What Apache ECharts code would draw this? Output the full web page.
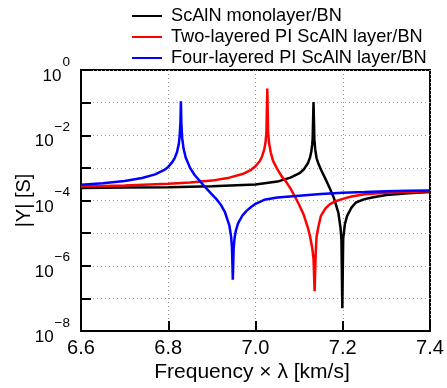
<!DOCTYPE html>
<html><head><meta charset="utf-8">
<script src="https://cdn.jsdelivr.net/npm/echarts@6/dist/echarts.min.js"></script>
<style>html,body{margin:0;padding:0;background:#fff}#c{width:447px;height:388px}</style>
</head><body><div id="c"></div>
<script>
const seriesNames = ['ScAlN monolayer/BN', 'Two-layered PI ScAlN layer/BN', 'Four-layered PI ScAlN layer/BN'];
const seriesColors = ['#000000', '#ff0000', '#0000ff'];

// ScAlN monolayer/BN
const blackFreq = [6.60, 6.70, 6.80, 6.90, 7.00, 7.05, 7.08, 7.10, 7.11, 7.12, 7.125, 7.128, 7.13, 7.131, 7.133, 7.135, 7.137, 7.14, 7.145, 7.15, 7.16, 7.17, 7.18, 7.19, 7.195, 7.197, 7.199, 7.201, 7.205, 7.21, 7.22, 7.23, 7.25, 7.27, 7.30, 7.35, 7.40];
const blackY = [2.40e-4, 2.51e-4, 2.57e-4, 2.75e-4, 3.09e-4, 3.80e-4, 5.01e-4, 6.76e-4, 8.71e-4, 1.38e-3, 2.09e-3, 3.24e-3, 5.25e-3, 7.76e-3, 1.05e-1, 7.24e-3, 3.55e-3, 2.00e-3, 1.26e-3, 8.91e-4, 4.68e-4, 2.40e-4, 1.17e-4, 4.17e-5, 1.41e-5, 6.31e-6, 5.01e-8, 6.76e-6, 1.91e-5, 3.39e-5, 6.03e-5, 8.71e-5, 1.10e-4, 1.26e-4, 1.48e-4, 1.66e-4, 1.82e-4];

// Two-layered PI ScAlN layer/BN
const redFreq = [6.60, 6.70, 6.80, 6.85, 6.90, 6.94, 6.97, 6.99, 7.00, 7.01, 7.015, 7.02, 7.023, 7.025, 7.027, 7.029, 7.031, 7.035, 7.04, 7.05, 7.06, 7.07, 7.08, 7.09, 7.10, 7.11, 7.12, 7.125, 7.13, 7.133, 7.1355, 7.138, 7.14, 7.145, 7.15, 7.16, 7.17, 7.18, 7.20, 7.22, 7.25, 7.30, 7.35, 7.40];
const redY = [2.69e-4, 2.88e-4, 3.24e-4, 3.55e-4, 4.07e-4, 5.01e-4, 6.46e-4, 8.71e-4, 1.12e-3, 1.62e-3, 2.24e-3, 3.63e-3, 6.17e-3, 1.20e-2, 2.69e-1, 1.20e-2, 5.89e-3, 2.95e-3, 1.66e-3, 9.12e-4, 5.50e-4, 3.80e-4, 2.34e-4, 1.35e-4, 7.41e-5, 3.80e-5, 1.48e-5, 7.94e-6, 3.55e-6, 1.66e-6, 1.66e-7, 2.51e-6, 7.94e-6, 1.78e-5, 3.39e-5, 5.62e-5, 7.59e-5, 9.12e-5, 1.12e-4, 1.32e-4, 1.55e-4, 1.74e-4, 1.82e-4, 1.91e-4];

// Four-layered PI ScAlN layer/BN
const blueFreq = [6.60, 6.65, 6.70, 6.74, 6.77, 6.79, 6.80, 6.81, 6.815, 6.82, 6.824, 6.826, 6.828, 6.829, 6.830, 6.832, 6.835, 6.84, 6.85, 6.86, 6.88, 6.90, 6.91, 6.92, 6.93, 6.94, 6.944, 6.946, 6.948, 6.950, 6.952, 6.955, 6.96, 6.97, 6.98, 6.99, 7.00, 7.02, 7.05, 7.10, 7.15, 7.20, 7.25, 7.30, 7.35, 7.40];
const blueY = [3.02e-4, 3.39e-4, 3.98e-4, 4.90e-4, 6.31e-4, 8.51e-4, 1.07e-3, 1.55e-3, 2.04e-3, 3.02e-3, 5.25e-3, 8.71e-3, 2.57e-2, 1.10e-1, 2.45e-2, 8.13e-3, 3.98e-3, 2.09e-3, 1.00e-3, 6.17e-4, 3.02e-4, 1.55e-4, 1.12e-4, 7.59e-5, 4.37e-5, 1.74e-5, 7.94e-6, 3.80e-6, 3.72e-7, 3.55e-6, 7.08e-6, 1.20e-5, 2.00e-5, 3.47e-5, 4.90e-5, 6.31e-5, 7.94e-5, 1.05e-4, 1.23e-4, 1.41e-4, 1.58e-4, 1.74e-4, 1.82e-4, 1.91e-4, 2.00e-4, 2.04e-4];

const xTicks = [6.6, 6.8, 7.0, 7.2, 7.4];
const yLabelExponents = [0, -2, -4, -6, -8];

const FONT = '"Liberation Sans", Arial, Helvetica, sans-serif';
function pairs(f, y) { return f.map((v, i) => [v, y[i]]); }
const dataSets = [pairs(blackFreq, blackY), pairs(redFreq, redY), pairs(blueFreq, blueY)];

const chart = echarts.init(document.getElementById('c'), null, {renderer: 'canvas'});
const option = {
  animation: false,
  backgroundColor: '#ffffff',
  textStyle: {fontFamily: FONT},
  grid: {left: 81, right: 17, top: 70, bottom: 57, containLabel: false, outerBoundsMode: 'none',
         show: true, borderColor: '#000', borderWidth: 2, backgroundColor: 'transparent'},
  legend: {
    orient: 'vertical', left: 132, top: 6, padding: 0, itemWidth: 30, itemHeight: 2, itemGap: 1, icon: 'rect',
    textStyle: {fontSize: 18.2, fontFamily: FONT, color: '#000', lineHeight: 20, padding: [0, 0, 0, 4]},
    data: seriesNames
  },
  xAxis: {
    type: 'value', min: xTicks[0], max: xTicks[xTicks.length - 1], interval: 0.2,
    axisLine: {show: true, onZero: false, lineStyle: {color: '#000', width: 2}},
    axisTick: {show: true, inside: true, length: 10, lineStyle: {color: '#000', width: 2}},
    axisLabel: {fontSize: 20, color: '#000', fontFamily: FONT, margin: 7, formatter: v => v.toFixed(1)},
    splitLine: {show: true, lineStyle: {color: '#999', type: [1, 3], width: 1}},
    name: 'Frequency × λ [km/s]', nameLocation: 'middle', nameGap: 31, nameMoveOverlap: false,
    nameTextStyle: {fontSize: 21, color: '#000', fontFamily: FONT, padding: [0, 7, 0, 0]}
  },
  yAxis: {
    type: 'log', logBase: 10, min: 1e-8, max: 1, interval: 1,
    axisLine: {show: true, onZero: false, lineStyle: {color: '#000', width: 2}},
    axisTick: {show: true, inside: true, length: 10, lineStyle: {color: '#000', width: 2}},
    axisLabel: {
      margin: 11, color: '#000', fontFamily: FONT,
      formatter: v => {
        const e = Math.round(Math.log10(v));
        return yLabelExponents.indexOf(e) >= 0 ? '{b|10}{e|' + (e < 0 ? '\u2212' + (-e) : e) + '}' : '';
      },
      rich: {
        b: {fontSize: 17, fontFamily: FONT, color: '#000', verticalAlign: 'bottom', lineHeight: 30},
        e: {fontSize: 13.5, fontFamily: FONT, color: '#000', verticalAlign: 'top', padding: [0, 0, 0, 1]}
      }
    },
    splitLine: {show: true, lineStyle: {color: '#999', type: [1, 3], width: 1}},
    name: '|Y| [S]', nameLocation: 'middle', nameGap: 47, nameMoveOverlap: false,
    nameTextStyle: {fontSize: 20, color: '#000', fontFamily: FONT}
  },
  series: seriesNames.map((n, i) => ({
    name: n, type: 'line', data: dataSets[i], showSymbol: false, symbol: 'none',
    smooth: false, clip: true,
    lineStyle: {color: seriesColors[i], width: 2.5},
    itemStyle: {color: seriesColors[i]}
  }))
};
chart.setOption(option);
</script></body></html>
